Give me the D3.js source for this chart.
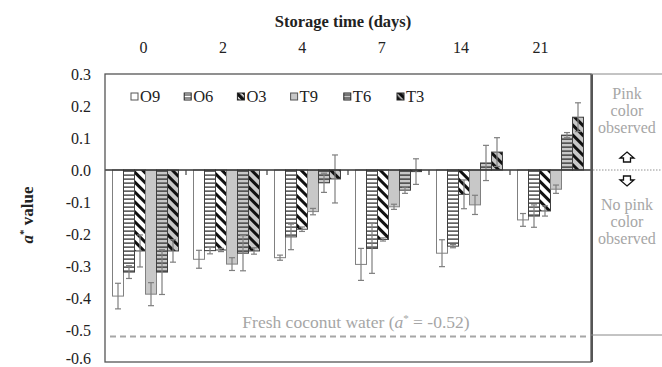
<!DOCTYPE html>
<html><head><meta charset="utf-8">
<script src="https://cdn.jsdelivr.net/npm/d3@7/dist/d3.min.js"></script>
<style>
body{margin:0;background:#fff;}
svg{display:block;}
</style></head>
<body><svg id="c" width="662" height="367"></svg>
<script>
const categories = ["0","2","4","7","14","21"];
const seriesNames = ["O9","O6","O3","T9","T6","T3"];
const O9 = [-0.394,-0.279,-0.274,-0.295,-0.260,-0.156];
const O6 = [-0.319,-0.252,-0.209,-0.245,-0.238,-0.144];
const O3 = [-0.253,-0.250,-0.185,-0.217,-0.076,-0.128];
const T9 = [-0.388,-0.294,-0.130,-0.115,-0.109,-0.060];
const T6 = [-0.319,-0.260,-0.040,-0.063,0.022,0.109];
const T3 = [-0.253,-0.253,-0.028,-0.005,0.056,0.165];
const errO9 = [0.040,0.028,0.008,0.050,0.042,0.020];
const errO6 = [0.020,0.010,0.040,0.078,0.005,0.035];
const errO3 = [0.050,0.005,0.007,0.005,0.045,0.016];
const errT9 = [0.036,0.020,0.010,0.008,0.030,0.013];
const errT6 = [0.070,0.055,0.030,0.010,0.055,0.008];
const errT3 = [0.035,0.010,0.075,0.040,0.045,0.045];
const yTicks = [0.3,0.2,0.1,0.0,-0.1,-0.2,-0.3,-0.4,-0.5,-0.6];
const freshValue = -0.52;

const values = {O9,O6,O3,T9,T6,T3};
const errors = {O9:errO9,O6:errO6,O3:errO3,T9:errT9,T6:errT6,T3:errT3};
const FONT = "Liberation Serif";

const svg = d3.select("#c").attr("font-family",FONT);
const L=105, R=591, T=74, B=362;
const y = d3.scaleLinear().domain([-0.6,0.3]).range([B,T]);
const x0 = d3.scaleBand().domain(categories).range([L,R]);
const x1 = d3.scaleBand().domain(seriesNames).range([7.5,73.5]);
const xl = d3.scalePoint().domain(categories).range([143,540]);

// patterns
const defs = svg.append("defs");
function hpat(id,bg){
  const p=defs.append("pattern").attr("id",id).attr("patternUnits","userSpaceOnUse").attr("width",8).attr("height",4);
  p.append("rect").attr("width",8).attr("height",4).attr("fill",bg);
  p.append("rect").attr("y",2.5).attr("width",8).attr("height",1.2).attr("fill","#222");
}
function dpat(id,bg){
  const p=defs.append("pattern").attr("id",id).attr("patternUnits","userSpaceOnUse").attr("width",7).attr("height",7).attr("patternTransform","rotate(-45)");
  p.append("rect").attr("width",7).attr("height",7).attr("fill",bg);
  p.append("rect").attr("x",0).attr("width",3).attr("height",7).attr("fill","#111");
}
hpat("pO6","#fff"); dpat("pO3","#fff"); hpat("pT6","#c8c8c8"); dpat("pT3","#c8c8c8");
const fills = {O9:"#fff",O6:"url(#pO6)",O3:"url(#pO3)",T9:"#c8c8c8",T6:"url(#pT6)",T3:"url(#pT3)"};
const strokes = {O9:"#808080",O6:"#404040",O3:"#404040",T9:"#808080",T6:"#404040",T3:"#404040"};

// fresh coconut dashed line
svg.append("line").attr("x1",L+5).attr("x2",R-2).attr("y1",y(freshValue)).attr("y2",y(freshValue))
  .attr("stroke","#a6a6a6").attr("stroke-width",2).attr("stroke-dasharray","6,4");
svg.append("text").attr("x",356).attr("y",y(freshValue)-8).attr("text-anchor","middle")
  .attr("font-family",FONT).attr("font-size",17.5).attr("fill","#a6a6a6")
  .html('Fresh coconut water (<tspan font-style="italic">a</tspan><tspan dy="-6" font-size="11">*</tspan><tspan dy="6"> = -0.52)</tspan>');

// bars
const g = svg.append("g");
categories.forEach((c,i)=>{
  seriesNames.forEach(s=>{
    const v = values[s][i];
    const bx = x0(c)+x1(s);
    g.append("rect").attr("x",bx).attr("width",x1.bandwidth())
      .attr("y",y(Math.max(0,v))).attr("height",Math.abs(y(v)-y(0)))
      .attr("fill",fills[s]).attr("stroke",strokes[s]).attr("stroke-width",1);
  });
});
// error bars
categories.forEach((c,i)=>{
  seriesNames.forEach(s=>{
    const v=values[s][i], e=errors[s][i];
    const cx = x0(c)+x1(s)+x1.bandwidth()/2;
    const eg = g.append("g").attr("stroke","#7f7f7f").attr("stroke-width",1.2);
    eg.append("line").attr("x1",cx).attr("x2",cx).attr("y1",y(v+e)).attr("y2",y(v-e));
    eg.append("line").attr("x1",cx-3).attr("x2",cx+3).attr("y1",y(v+e)).attr("y2",y(v+e));
    eg.append("line").attr("x1",cx-3).attr("x2",cx+3).attr("y1",y(v-e)).attr("y2",y(v-e));
  });
});

// zero line + ticks
svg.append("line").attr("x1",L).attr("x2",R).attr("y1",y(0)).attr("y2",y(0)).attr("stroke","#333").attr("stroke-width",1.3);
categories.slice(1).forEach(c=>{
  svg.append("line").attr("x1",x0(c)).attr("x2",x0(c)).attr("y1",y(0)).attr("y2",y(0)+5).attr("stroke","#444").attr("stroke-width",1.2);
});

// plot frame
svg.append("rect").attr("x",L).attr("y",T).attr("width",R-L).attr("height",B-T)
  .attr("fill","none").attr("stroke","#555").attr("stroke-width",1.3);
svg.append("line").attr("x1",R+1).attr("x2",R+1).attr("y1",T).attr("y2",B).attr("stroke","#555").attr("stroke-width",2);

// right panel
svg.append("line").attr("x1",R).attr("x2",662).attr("y1",T).attr("y2",T).attr("stroke","#888").attr("stroke-width",1);
svg.append("line").attr("x1",R).attr("x2",662).attr("y1",335).attr("y2",335).attr("stroke","#888").attr("stroke-width",1);
svg.append("line").attr("x1",R+2).attr("x2",662).attr("y1",y(0)).attr("y2",y(0)).attr("stroke","#777").attr("stroke-width",0.8).attr("stroke-dasharray","1.5,1.5");
const pc = 627;
[["Pink",99],["color",116],["observed",133]].forEach(([t,yy])=>{
  svg.append("text").attr("x",pc).attr("y",yy).attr("text-anchor","middle").attr("font-family",FONT).attr("font-size",16).attr("fill","#a6a6a6").text(t);
});
[["No pink",210],["color",227],["observed",244]].forEach(([t,yy])=>{
  svg.append("text").attr("x",pc).attr("y",yy).attr("text-anchor","middle").attr("font-family",FONT).attr("font-size",16).attr("fill","#a6a6a6").text(t);
});
// arrows
svg.append("path").attr("d",`M${pc},${152} L${pc+7},${158} L${pc+3.5},${158} L${pc+3.5},${162} L${pc-3.5},${162} L${pc-3.5},${158} L${pc-7},${158} Z`)
  .attr("fill","#fff").attr("stroke","#111").attr("stroke-width",1.3);
svg.append("path").attr("d",`M${pc},${186} L${pc+7},${180} L${pc+3.5},${180} L${pc+3.5},${176} L${pc-3.5},${176} L${pc-3.5},${180} L${pc-7},${180} Z`)
  .attr("fill","#fff").attr("stroke","#111").attr("stroke-width",1.3);

// y axis labels
const ya = svg.append("g").attr("transform",`translate(${L},0)`)
  .call(d3.axisLeft(y).tickValues(yTicks).tickSize(0).tickPadding(14).tickFormat(d3.format(".1f")));
ya.attr("font-family",FONT);
ya.select(".domain").remove();
ya.selectAll("text").attr("font-size",16).attr("fill","#222").attr("font-family",FONT)
  .attr("dy",d=>d===-0.6?"0.1em":"0.32em")
  .text(d=>d3.format(".1f")(d).replace("−","-"));

// top category labels
const xa = svg.append("g").attr("transform","translate(0,53)")
  .call(d3.axisTop(xl).tickSize(0).tickPadding(0));
xa.attr("font-family",FONT);
xa.select(".domain").remove();
xa.selectAll("text").attr("font-size",16).attr("fill","#222").attr("font-family",FONT);

// titles
svg.append("text").attr("x",343).attr("y",27).attr("text-anchor","middle").attr("font-family",FONT).attr("font-size",16.5)
  .attr("font-weight","bold").attr("fill","#222").text("Storage time (days)");
svg.append("text").attr("transform","translate(33,215) rotate(-90)").attr("text-anchor","middle")
  .attr("font-family",FONT).attr("font-size",17).attr("font-weight","bold").attr("fill","#222")
  .html('<tspan font-style="italic">a</tspan><tspan dy="-6" font-size="11">*</tspan><tspan dy="6"> value</tspan>');

// legend
const lg = svg.append("g");
const lx = d3.scalePoint().domain(seriesNames).range([131,397]);
const lfills = {O9:"#fff",O6:"url(#lO6)",O3:"url(#lO3)",T9:"#c8c8c8",T6:"url(#lT6)",T3:"url(#lT3)"};
function lh(id,bg){
  const p=defs.append("pattern").attr("id",id).attr("patternUnits","userSpaceOnUse").attr("width",4).attr("height",3);
  p.append("rect").attr("width",4).attr("height",3).attr("fill",bg);
  p.append("rect").attr("y",1.5).attr("width",4).attr("height",1).attr("fill","#222");
}
function ld(id,bg){
  const p=defs.append("pattern").attr("id",id).attr("patternUnits","userSpaceOnUse").attr("width",5).attr("height",5).attr("patternTransform","rotate(-45)");
  p.append("rect").attr("width",5).attr("height",5).attr("fill","#111");
  p.append("rect").attr("x",3.5).attr("width",1.5).attr("height",5).attr("fill",bg);
}
lh("lO6","#fff"); ld("lO3","#fff"); lh("lT6","#c8c8c8"); ld("lT3","#c8c8c8");
seriesNames.forEach(s=>{
  const xx = lx(s);
  lg.append("rect").attr("x",xx).attr("y",93).attr("width",7).attr("height",7)
    .attr("fill",lfills[s]).attr("stroke",s==="O9"||s==="T9"?"#555":"#222").attr("stroke-width",1);
  lg.append("text").attr("x",xx+9).attr("y",102).attr("font-family",FONT).attr("font-size",16.5).attr("fill","#222").text(s);
});
</script></body></html>
